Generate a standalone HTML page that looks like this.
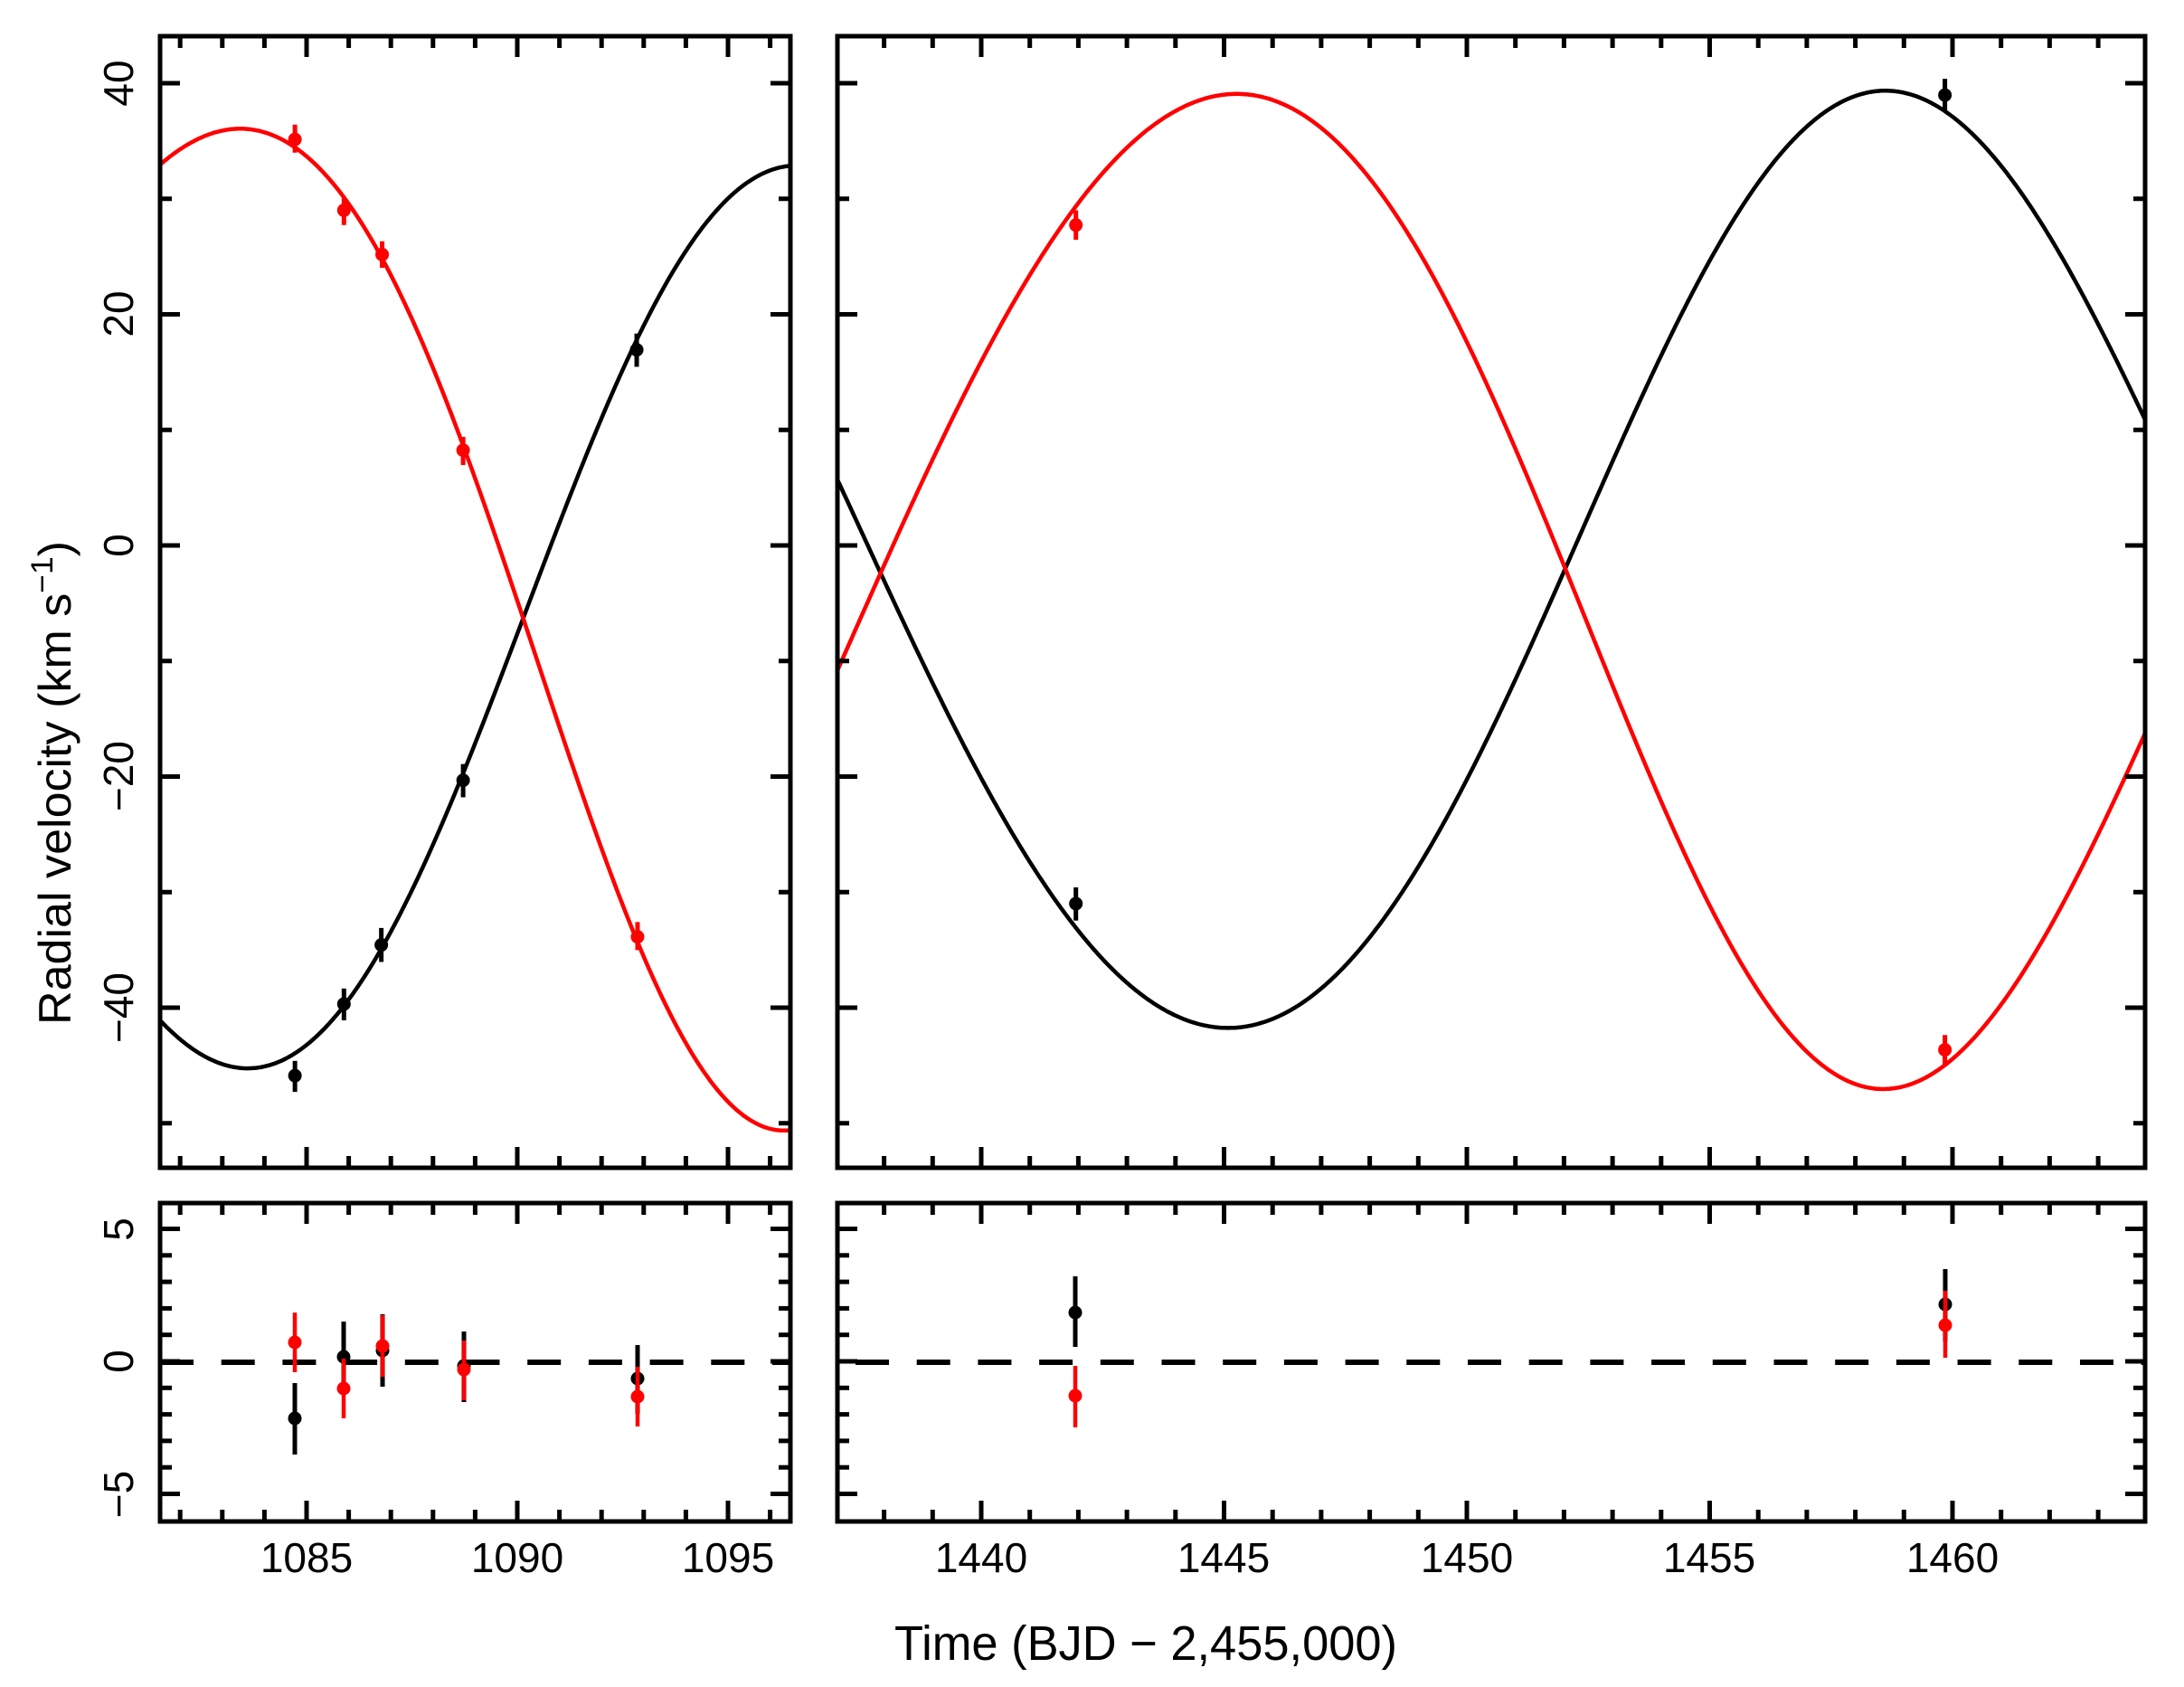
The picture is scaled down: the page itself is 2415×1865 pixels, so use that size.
<!DOCTYPE html>
<html><head><meta charset="utf-8"><style>
html,body{margin:0;padding:0;background:#fff;}
svg{display:block;}
text{font-family:"Liberation Sans",Arial,sans-serif;fill:#000;}
</style></head><body>
<svg id="s" xmlns="http://www.w3.org/2000/svg" width="2415" height="1865" viewBox="0 0 2415 1865">
<rect width="2415" height="1865" fill="#fff"/>
<defs>
<clipPath id="cl"><rect x="177" y="40" width="697" height="1251"/></clipPath>
<clipPath id="cr"><rect x="926" y="40" width="1446" height="1251"/></clipPath>
</defs>
<g id="g"></g>
<g font-size="46">
<text x="339" y="1738" text-anchor="middle">1085</text>
<text x="572" y="1738" text-anchor="middle">1090</text>
<text x="805" y="1738" text-anchor="middle">1095</text>
<text x="1085" y="1738" text-anchor="middle">1440</text>
<text x="1353" y="1738" text-anchor="middle">1445</text>
<text x="1622" y="1738" text-anchor="middle">1450</text>
<text x="1890" y="1738" text-anchor="middle">1455</text>
<text x="2159" y="1738" text-anchor="middle">1460</text>
<text transform="translate(147,92) rotate(-90)" text-anchor="middle">40</text>
<text transform="translate(147,347) rotate(-90)" text-anchor="middle">20</text>
<text transform="translate(147,603) rotate(-90)" text-anchor="middle">0</text>
<text transform="translate(147,858) rotate(-90)" text-anchor="middle">−20</text>
<text transform="translate(147,1114) rotate(-90)" text-anchor="middle">−40</text>
<text transform="translate(147,1359) rotate(-90)" text-anchor="middle">5</text>
<text transform="translate(147,1505) rotate(-90)" text-anchor="middle">0</text>
<text transform="translate(147,1652) rotate(-90)" text-anchor="middle">−5</text>
</g>
<text x="989" y="1835" font-size="54" textLength="556" lengthAdjust="spacingAndGlyphs">Time (BJD − 2,455,000)</text>
<text transform="translate(78,1133) rotate(-90)" font-size="50" textLength="535" lengthAdjust="spacingAndGlyphs">Radial velocity (km s<tspan dy="-20" font-size="34">−1</tspan><tspan dy="20">)</tspan></text>
</svg>
<script>
var g=document.getElementById('g'),NS='http://www.w3.org/2000/svg';
function el(t,a){var e=document.createElementNS(NS,t);for(var k in a)e.setAttribute(k,a[k]);g.appendChild(e);return e;}
function L(p){return p.map(function(q){return[170+0.4592*q[0],30+0.8163*q[1]];});}
function R(p){return p.map(function(q){return[915+0.9375*q[0],30+0.8163*q[1]];});}
function basis(x,w){return[1,Math.cos(w*x),Math.sin(w*x),Math.cos(2*w*x),Math.sin(2*w*x)];}
function fit(p,P){var w=2*Math.PI/P,n=5,A=[],b=[],i,j,k;
for(i=0;i<n;i++){A.push([0,0,0,0,0]);b.push(0);}
p.forEach(function(q){var f=basis(q[0],w);for(i=0;i<n;i++){b[i]+=f[i]*q[1];for(j=0;j<n;j++)A[i][j]+=f[i]*f[j];}});
for(i=0;i<n;i++){var m=i;for(k=i+1;k<n;k++)if(Math.abs(A[k][i])>Math.abs(A[m][i]))m=k;
var t=A[i];A[i]=A[m];A[m]=t;t=b[i];b[i]=b[m];b[m]=t;
for(k=i+1;k<n;k++){var f=A[k][i]/A[i][i];for(j=i;j<n;j++)A[k][j]-=f*A[i][j];b[k]-=f*b[i];}}
var c=[0,0,0,0,0];for(i=n-1;i>=0;i--){var s=b[i];for(j=i+1;j<n;j++)s-=A[i][j]*c[j];c[i]=s/A[i][i];}
return function(x){var f=basis(x,w),s=0;for(var i=0;i<n;i++)s+=c[i]*f[i];return s;};}
function curve(p,P,x0,x1,col,cl){var F=fit(p,P),d='';for(var x=x0;x<=x1+0.01;x+=2){d+=(d?'L':'M')+x.toFixed(1)+','+F(x).toFixed(1);}
el('path',{d:d,fill:'none',stroke:col,'stroke-width':4.5,'stroke-linejoin':'round','clip-path':'url(#'+cl+')'});}
var lr=L([[14,190],[100,155],[205,135],[300,145],[340,152],[400,195],[460,245],[550,310],[640,420],[740,570],[800,650],[895,800],[990,960],[1100,1150],[1200,1290],[1300,1400],[1400,1460],[1533,1492]]);
var lb=L([[14,1348],[100,1385],[225,1408],[340,1388],[460,1322],[550,1245],[640,1150],[740,1020],[800,940],[895,800],[1000,620],[1100,490],[1160,430],[1250,340],[1350,260],[1450,205],[1533,180]]);
var rr=R([[12,860],[60,740],[120,590],[180,455],[240,330],[290,245],[350,170],[420,115],[480,97],[540,105],[600,150],[660,230],[720,345],[780,490],[830,620],[870,740],[920,880],[980,1040],[1050,1210],[1120,1340],[1180,1410],[1245,1435],[1320,1400],[1400,1300],[1470,1160],[1552,985]]);
var rb=R([[12,630],[60,740],[120,880],[180,1020],[240,1130],[290,1210],[360,1295],[420,1340],[480,1360],[550,1335],[620,1260],[700,1130],[760,1000],[820,860],[870,740],[920,610],[980,450],[1040,310],[1100,200],[1170,125],[1245,95],[1320,125],[1380,180],[1440,270],[1500,390],[1552,520]]);
curve(lb,1281,176,876,'#000','cl');curve(lr,1281,176,876,'#f00','cl');
curve(rb,1477,925,2374,'#000','cr');curve(rr,1477,925,2374,'#f00','cr');
el('line',{x1:177,y1:1506,x2:874,y2:1506,stroke:'#000','stroke-width':6,'stroke-dasharray':'37 30.7'});
el('line',{x1:926,y1:1506,x2:2372,y2:1506,stroke:'#000','stroke-width':6,'stroke-dasharray':'37 30.7','stroke-dashoffset':-20});
function pt(x,y,t,b,c,w){el('line',{x1:x,y1:t,x2:x,y2:b,stroke:c,'stroke-width':w});el('circle',{cx:x,cy:y,r:7.5,fill:c});}
function lm(zx,zy,zt,zb,c){pt(170+0.4592*zx,30+0.8163*zy,30+0.8163*zt,30+0.8163*zb,c,5);}
function rm(zx,zy,zt,zb,c){pt(915+0.9375*zx,30+0.8163*zy,30+0.8163*zt,30+0.8163*zb,c,5);}
lm(340,1420,1400,1442,'#000');lm(458,1323,1302,1345,'#000');lm(548,1243,1220,1266,'#000');lm(745,1020,998,1043,'#000');lm(1163,437,415,460,'#000');
lm(340,152,132,170,'#f00');lm(458,248,230,268,'#f00');lm(550,308,290,326,'#f00');lm(745,573,555,593,'#f00');lm(1165,1232,1212,1250,'#f00');
rm(293,1187,1165,1210,'#000');rm(1318,92,70,115,'#000');rm(293,268,248,288,'#f00');rm(1318,1385,1365,1405,'#f00');
pt(326,1568,1529,1608,'#000',5);pt(380,1500,1461,1540,'#000',5);pt(423,1493,1453,1533,'#000',5);pt(513,1510,1472,1550,'#000',5);pt(705,1524,1487,1563,'#000',5);
pt(326,1484,1451,1517,'#f00',4.5);pt(380,1535,1502,1568,'#f00',4.5);pt(423,1488,1454,1522,'#f00',4.5);pt(513,1514,1482,1548,'#f00',4.5);pt(705,1544,1511,1577,'#f00',4.5);
pt(1189,1451,1411,1489,'#000',5);pt(2151,1442,1403,1483,'#000',5);
pt(1189,1543,1510,1578,'#f00',4.5);pt(2151,1465,1427,1501,'#f00',4.5);
function frame(x0,x1,y0,y1){el('rect',{x:x0,y:y0,width:x1-x0,height:y1-y0,fill:'none',stroke:'#000','stroke-width':5});}
function tk(x1,y1,x2,y2){el('line',{x1:x1,y1:y1,x2:x2,y2:y2,stroke:'#000','stroke-width':5});}
var panels=[[177,874,339,46.6,1082,1096,1085],[926,2372,1622,53.7,1438,1463,1450]];
var rows=[[40,1291,603,12.775,-50,40,10,20],[1330,1682,1505,29.3,-5,5,1,5]];
panels.forEach(function(P){rows.forEach(function(Rw){
frame(P[0],P[1],Rw[0],Rw[1]);
for(var t=P[4];t<=P[5];t++){var x=P[2]+(t-P[6])*P[3];
var len=(t%5==0)?23:13;tk(x,Rw[0],x,Rw[0]+len);tk(x,Rw[1],x,Rw[1]-len);}
for(var v=Rw[4];v<=Rw[5];v+=Rw[6]){var y=Rw[2]-v*Rw[3];var len=(v%Rw[7]==0)?22:13;tk(P[0],y,P[0]+len,y);tk(P[1],y,P[1]-len,y);}
});});
</script>
</body></html>
